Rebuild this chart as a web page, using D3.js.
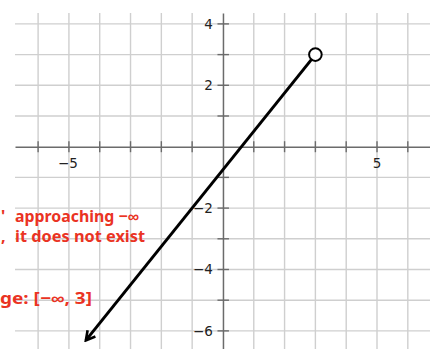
<!DOCTYPE html>
<html>
<head>
<meta charset="utf-8">
<script src="https://cdn.jsdelivr.net/npm/d3@7"></script>
<style>
  html, body { margin: 0; padding: 0; background: #fff; }
  svg { display: block; }
</style>
</head>
<body>
<svg id="chart" width="430" height="349"></svg>
<script>
// Grid and tick values
const gridX = [-6, -5, -4, -3, -2, -1, 1, 2, 3, 4, 5, 6];
const gridY = [-6, -5, -4, -3, -2, -1, 1, 2, 3, 4];
const xTickLabels = [-5, 5];
const yTickLabels = [-6, -4, -2, 2, 4];

// The ray: closed end marked with an arrow, open end at (3, 3)
const rayX = [-4.45, 3];
const rayY = [-6.31, 3];
const openPoint = { x: 3, y: 3 };

// Handwritten notes
const notes = [
  { text: "'", x: 1, y: 222 },
  { text: "approaching \u2212\u221e", x: 15, y: 222, len: 124 },
  { text: ",", x: 1, y: 242 },
  { text: "it does not exist", x: 15, y: 242, len: 130 },
  { text: "ge: [\u2212\u221e, 3]", x: 0, y: 304, len: 92 }
];

const svg = d3.select("#chart");
const W = 430, H = 349;

const x = d3.scaleLinear().domain([-6.75, 6.72]).range([15, 430]);
const y = d3.scaleLinear().domain([-6.59, 4.355]).range([349, 13]);

// grid
const grid = svg.append("g").attr("stroke", "#cfcfcf").attr("stroke-width", 1.4);
grid.selectAll("line.v").data(gridX).join("line")
  .attr("class", "v")
  .attr("x1", d => x(d)).attr("x2", d => x(d))
  .attr("y1", y.range()[1]).attr("y2", y.range()[0]);
grid.selectAll("line.h").data(gridY).join("line")
  .attr("class", "h")
  .attr("y1", d => y(d)).attr("y2", d => y(d))
  .attr("x1", x.range()[0]).attr("x2", x.range()[1]);

// axes
const axisColor = "#6b6b6b";
const axisX = d3.axisBottom(x)
  .tickValues(gridX)
  .tickSize(0)
  .tickFormat("");
const gx = svg.append("g").attr("transform", `translate(0,${y(0)})`).call(axisX);
gx.select(".domain").attr("stroke", axisColor).attr("stroke-width", 1.5);

const axisY = d3.axisLeft(y)
  .tickValues(gridY)
  .tickSize(0)
  .tickFormat("");
const gy = svg.append("g").attr("transform", `translate(${x(0)},0)`).call(axisY);
gy.select(".domain").attr("stroke", axisColor).attr("stroke-width", 1.5);

// crossing tick marks
svg.append("g").selectAll("line").data(gridX).join("line")
  .attr("x1", d => x(d)).attr("x2", d => x(d))
  .attr("y1", y(0) - 5.5).attr("y2", y(0) + 5.5)
  .attr("stroke", axisColor).attr("stroke-width", 1.4);
svg.append("g").selectAll("line").data(gridY).join("line")
  .attr("y1", d => y(d)).attr("y2", d => y(d))
  .attr("x1", x(0) - 5.5).attr("x2", x(0) + 6)
  .attr("stroke", axisColor).attr("stroke-width", 1.4);

const fmt = d => (d < 0 ? "\u2212" : "") + Math.abs(d);

// tick labels
svg.append("g").selectAll("text").data(xTickLabels).join("text")
  .attr("x", d => x(d) - (d < 0 ? 1 : 0))
  .attr("y", y(0) + 21)
  .attr("text-anchor", "middle")
  .attr("font-family", "DejaVu Sans, sans-serif")
  .attr("font-size", 13.5)
  .attr("fill", "#222")
  .text(fmt);
svg.append("g").selectAll("text").data(yTickLabels).join("text")
  .attr("x", x(0) - 10)
  .attr("y", d => y(d) + 5)
  .attr("text-anchor", "end")
  .attr("font-family", "DejaVu Sans, sans-serif")
  .attr("font-size", 13.5)
  .attr("fill", "#222")
  .text(fmt);

// the ray
svg.append("defs").append("marker")
  .attr("id", "arrow")
  .attr("viewBox", "0 0 12 12")
  .attr("refX", 10).attr("refY", 6)
  .attr("markerWidth", 12).attr("markerHeight", 12)
  .attr("markerUnits", "userSpaceOnUse")
  .attr("orient", "auto-start-reverse")
  .append("path")
  .attr("d", "M1,1 L10,6 L1,11")
  .attr("fill", "none")
  .attr("stroke", "#000")
  .attr("stroke-width", 2.6);

const rayPts = rayX.map((d, i) => [x(d), y(rayY[i])]);
svg.append("path")
  .datum(rayPts)
  .attr("d", d3.line())
  .attr("fill", "none")
  .attr("stroke", "#000")
  .attr("stroke-width", 3)
  .attr("marker-start", "url(#arrow)");

svg.append("circle")
  .attr("cx", x(openPoint.x)).attr("cy", y(openPoint.y))
  .attr("r", 6.3)
  .attr("fill", "#fff")
  .attr("stroke", "#000")
  .attr("stroke-width", 2);

// notes
svg.append("g").selectAll("text").data(notes).join("text")
  .attr("x", d => d.x).attr("y", d => d.y)
  .attr("font-family", "Liberation Sans Narrow, Noto Sans, sans-serif")
  .attr("font-size", 16)
  .attr("font-weight", "bold")
  .attr("fill", "#ea3323")
  .attr("textLength", d => d.len || null)
  .attr("lengthAdjust", "spacingAndGlyphs")
  .text(d => d.text);
</script>
</body>
</html>
